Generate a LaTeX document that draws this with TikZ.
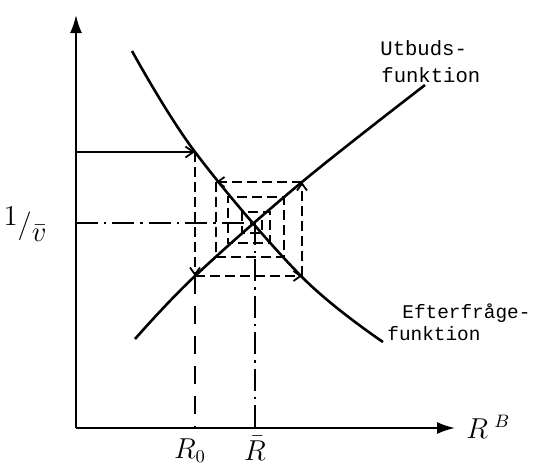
\documentclass[tikz,border=0pt]{standalone}
\usepackage{fontspec}
\usepackage{amsmath}
\setmonofont{Liberation Mono}
\usetikzlibrary{arrows.meta}

\begin{document}
\begin{tikzpicture}[x=0.5pt, y=-0.5pt,
    axis/.style={line width=1pt, -{Latex[length=9pt, width=6pt]}},
    curve/.style={line width=1.3pt},
    cob/.style={line width=0.9pt, dash pattern=on 5pt off 2.5pt},
    cobarrow/.style={cob, -{Straight Barb[length=3.5pt, width=5pt]}},
    drop/.style={line width=0.9pt, dash pattern=on 9pt off 6pt},
    dashdot/.style={line width=0.9pt, dash pattern=on 11pt off 3pt on 1.2pt off 3pt},
    lbl/.style={font=\fontsize{10.3}{12}\selectfont\ttfamily, inner sep=0pt, anchor=base west},
    axlbl/.style={font=\fontsize{13.5}{15}\selectfont, inner sep=0pt, anchor=base}]
    \useasboundingbox (0,0) rectangle (536,468);

    % Axes
    \coordinate (O) at (76,428);
    \coordinate (ytop) at (76,15);
    \coordinate (xend) at (455,428);
    \draw[axis] (O) -- (ytop);
    \draw[axis] (O) -- (xend);

    % Supply and demand curves
    \draw[curve] plot[smooth, tension=0.6] coordinates {(135,339) (195,276) (302,182) (425,85)};
    \draw[curve] plot[smooth, tension=0.6] coordinates {(132,51) (195,152) (302,277) (383,342)};

    % Cobweb corners (d = on demand, s = on supply)
    \coordinate (d0) at (195,152);  \coordinate (s0) at (195,276);
    \coordinate (d1) at (302,276);  \coordinate (s1) at (302,182);
    \coordinate (d2) at (216,182);  \coordinate (s2) at (216,257);
    \coordinate (d3) at (284,257);  \coordinate (s3) at (284,197);
    \coordinate (d4) at (228,197);  \coordinate (s4) at (228,243);
    \coordinate (d5) at (270,243);  \coordinate (s5) at (270,212);
    \coordinate (d6) at (242,212);  \coordinate (s6) at (242,233);
    \coordinate (d7) at (262,233);  \coordinate (s7) at (262,218);
    \coordinate (eq) at (255,223);

    % Start price
    \draw[line width=0.9pt, -{Straight Barb[length=4pt, width=5.5pt]}] (O |- d0) -- (d0);

    % Cobweb
    \draw[cobarrow] (d0) -- (s0);
    \draw[cobarrow] (s0) -- (d1);
    \draw[cobarrow] (d1) -- (s1);
    \draw[cobarrow] (s1) -- (d2);
    \draw[cob] (d2) -- (s2) -- (d3) -- (s3) -- (d4) -- (s4) -- (d5) -- (s5) -- (d6) -- (s6) -- (d7) -- (s7);

    % Guide lines
    \draw[drop] (s0) -- (s0 |- O);
    \draw[dashdot] (O |- eq) -- (eq);
    \draw[dashdot] (eq) -- (eq |- O);

    % Axis labels
    \node[axlbl, anchor=base west] (rb) at (466,438) {$R^{\,\,B}$};
    \node[axlbl] (r0) at (190,458) {$R_0$};
    \node[axlbl] (rbar) at (255,460) {$\bar{R}$};
    \node[axlbl, anchor=center] (inv) at (25,224) {$\raisebox{4pt}{$1$}/\raisebox{-4pt}{$\bar{v}$}$};

    % Curve labels
    \node[lbl] (ut1) at (380,55) {Utbuds-};
    \node[lbl] (ut2) at (381,82) {funktion};
    \node[lbl, font=\fontsize{9.7}{11}\selectfont\ttfamily] (ef1) at (402,318) {Efterfråge-};
    \node[lbl, font=\fontsize{9.7}{11}\selectfont\ttfamily] (ef2) at (387,340) {funktion};
\end{tikzpicture}
\end{document}
